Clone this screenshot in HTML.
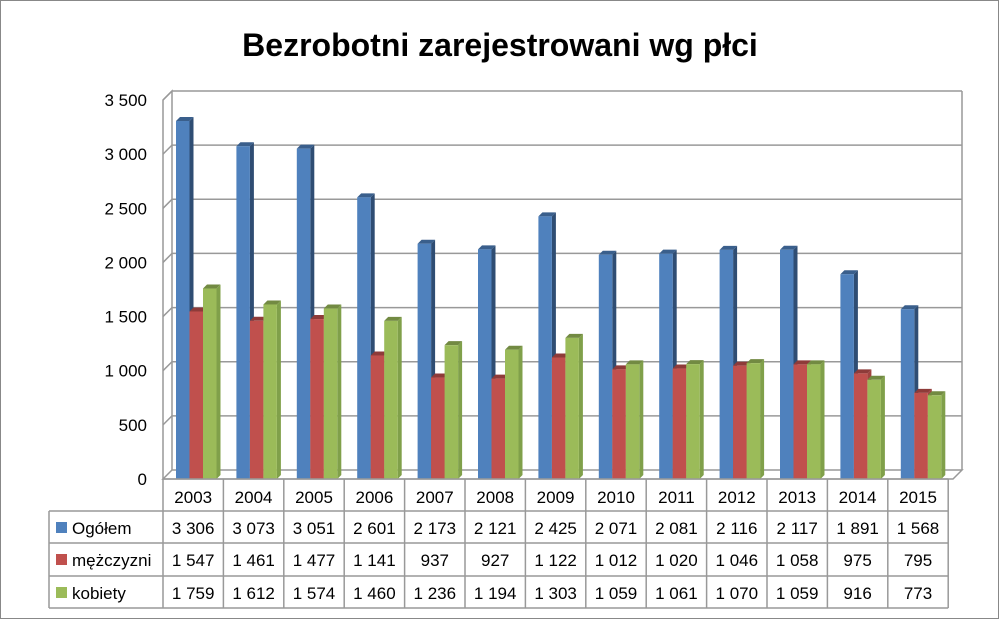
<!DOCTYPE html>
<html><head><meta charset="utf-8"><style>
body{margin:0;background:#fff}
svg{display:block;font-family:"Liberation Sans",sans-serif}
</style></head><body>
<svg id="c" width="1000" height="623" viewBox="0 0 1000 623">
<rect x="0.5" y="0.5" width="998" height="618" fill="#fff" stroke="#888"/>
<text x="500" y="56" text-anchor="middle" font-size="32" font-weight="bold" fill="#000">Bezrobotni zarejestrowani wg płci</text>
<g id="grid"></g><g id="bars"></g><g id="tbl"></g>
</svg>
<script>
const categories=["2003","2004","2005","2006","2007","2008","2009","2010","2011","2012","2013","2014","2015"];
const seriesNames=["Ogółem","mężczyzni","kobiety"];
const ogolem=[3306,3073,3051,2601,2173,2121,2425,2071,2081,2116,2117,1891,1568];
const mezczyzni=[1547,1461,1477,1141,937,927,1122,1012,1020,1046,1058,975,795];
const kobiety=[1759,1612,1574,1460,1236,1194,1303,1059,1061,1070,1059,916,773];
const yTicks=[0,500,1000,1500,2000,2500,3000,3500];
const NS="http://www.w3.org/2000/svg";
function mk(t,a,p){const e=document.createElementNS(NS,t);for(const k in a)e.setAttribute(k,a[k]);p.appendChild(e);return e;}
const X0=163,CW=60.4,Y0=479,K=(479-100)/3500,DX=9,DY=9;
const y=v=>Y0-v*K;
const fmt=v=>String(v).replace(/\B(?=(\d{3})+(?!\d))/g," ");
const grid=document.getElementById('grid');
// walls
let w=mk('polyline',{points:`${X0},${Y0} ${X0},${y(3500)} ${X0+DX},${y(3500)-DY} ${X0+DX},${Y0-DY}`,fill:'none',stroke:'#999','stroke-width':1.5},grid);


let fl=mk('polygon',{points:`${X0},${Y0} ${X0+DX},${Y0-DY} 962,${Y0-DY} ${962-DX},${Y0}`,fill:'none',stroke:'#999','stroke-width':1.5},grid);


mk('line',{x1:962,y1:y(3500)-DY,x2:962,y2:Y0-DY,stroke:'#999','stroke-width':1.5},grid);
yTicks.forEach(t=>{
  if(t>0){const g=mk('polyline',{points:`${X0},${y(t)} ${X0+DX},${y(t)-DY} 962,${y(t)-DY}`,fill:'none',stroke:'#999','stroke-width':1.5},grid);
  
  }
  const l=mk('text',{x:147,y:y(t)+6,'text-anchor':'end','font-size':17},grid);
  l.textContent=fmt(t);
  
  
});
const bars=document.getElementById('bars');
const series=[ogolem,mezczyzni,kobiety];
const cols=[["#4f81bd","#3a5f8c","#2f4d73"],["#c0504d","#8e3b39","#a0433f"],["#9bbb59","#728a42","#80a04a"]];
const BW=13.5,BD=4;
categories.forEach((c,i)=>{
  series.forEach((s,j)=>{
    const x=X0+i*CW+13+j*BW,top=y(s[i]),cc=cols[j];
    const g=mk('g',{},bars);
    
    
    mk('polygon',{points:`${x+BW},${Y0} ${x+BW},${top} ${x+BW+BD},${top-BD} ${x+BW+BD},${Y0-BD}`,fill:cc[2]},g);
    mk('polygon',{points:`${x},${top} ${x+BD},${top-BD} ${x+BW+BD},${top-BD} ${x+BW},${top}`,fill:cc[1]},g);
    mk('rect',{x:x,y:top,width:BW,height:Y0-top,fill:cc[0]},g);
  });
});
// table
const tb=document.getElementById('tbl');
const rows=[479,511,543,576,608];
const ln=(a,b,c,d)=>mk('line',{x1:a,y1:b,x2:c,y2:d,stroke:'#999','stroke-width':1.5},tb);
const XE=X0+13*CW;
for(let i=0;i<=13;i++)ln(X0+i*CW,479,X0+i*CW,608);
ln(49,511,49,608);
rows.forEach((r,k)=>ln(k==0?X0:49,r,XE,r));
categories.forEach((c,i)=>{
  const t=mk('text',{x:X0+i*CW+CW/2,y:503,'text-anchor':'middle','font-size':17},tb);
  t.textContent=c;
  
  
  series.forEach((s,j)=>{
    const v=mk('text',{x:X0+i*CW+CW/2,y:rows[j+1]+23,'text-anchor':'middle','font-size':17},tb);
    v.textContent=fmt(s[i]);
    
    
  });
});
seriesNames.forEach((n,j)=>{
  const sw=mk('rect',{x:56,y:rows[j+1]+11,width:11,height:11,fill:cols[j][0]},tb);
  
  
  const t=mk('text',{x:72,y:rows[j+1]+23,'font-size':17},tb);
  t.textContent=n;
  
  
});
</script>
</body></html>
